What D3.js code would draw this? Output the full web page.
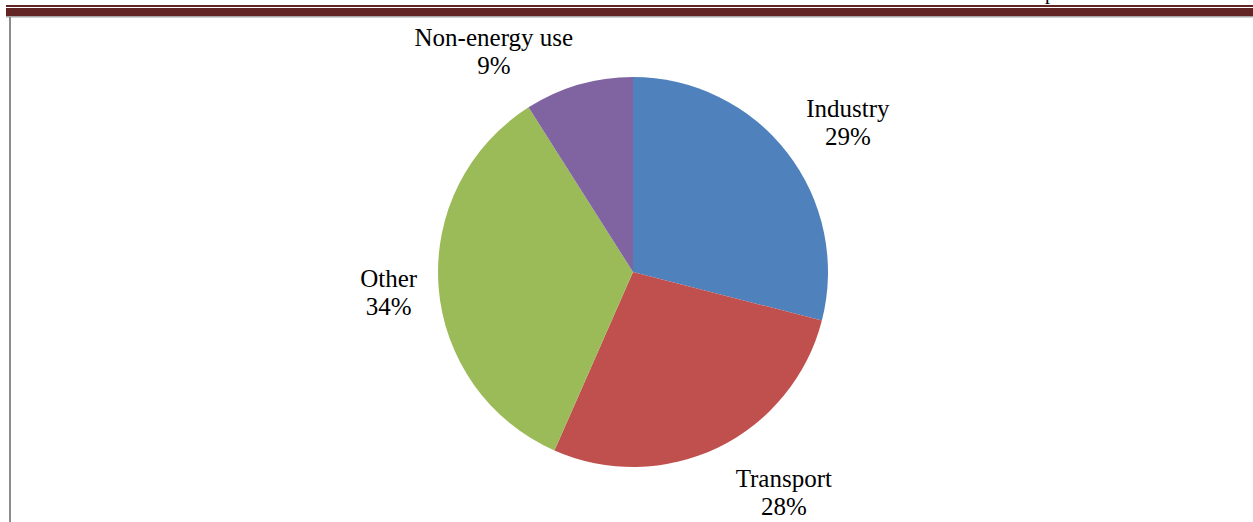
<!DOCTYPE html>
<html>
<head>
<meta charset="utf-8">
<script src="https://cdn.jsdelivr.net/npm/d3@7"></script>
<style>
  html, body { margin: 0; padding: 0; background: #fff; }
  svg { display: block; }
</style>
</head>
<body>
<div id="chart"></div>
<script>
// ---- data ----
const categories = ["Industry", "Transport", "Other", "Non-energy use"];
const values = [29.0, 27.6, 34.4, 9.0];
const colors = ["#4F81BD", "#C0504D", "#9BBB59", "#8064A2"];
// label placement (polar: degrees clockwise from top, radius factor of pie radius)
const labelAngles = [56.7, 146.6, 263.2, 326.7];
const labelRadii = [1.318, 1.405, 1.262, 1.300];

const W = 1253, H = 522;
const cx = 633, cy = 272, R = 195;

const svg = d3.select("#chart").append("svg")
  .attr("width", W).attr("height", H);

// page header decoration
svg.append("rect").attr("x", 6).attr("y", 5).attr("width", W - 6).attr("height", 2).attr("fill", "#632523");
svg.append("rect").attr("x", 6).attr("y", 8).attr("width", W - 6).attr("height", 8).attr("fill", "#632523");
svg.append("rect").attr("x", 6).attr("y", 16).attr("width", W - 6).attr("height", 1.5).attr("fill", "#a6a6a6");
svg.append("rect").attr("x", 9).attr("y", 17).attr("width", 2).attr("height", H - 17).attr("fill", "#8c8c8c");
svg.append("text").attr("x", 1050).attr("y", -1).attr("text-anchor", "middle")
  .attr("font-family", "Liberation Serif, Times New Roman, serif").attr("font-size", 20)
  .attr("fill", "#000").text("p");

const pie = d3.pie().sort(null).value(d => d)(values);
const arc = d3.arc().innerRadius(0).outerRadius(R);

const g = svg.append("g").attr("transform", `translate(${cx},${cy})`);
g.selectAll("path").data(pie).enter().append("path")
  .attr("d", arc)
  .attr("fill", (d, i) => colors[i]);

const total = d3.sum(values);
const labels = g.selectAll("text.lbl").data(pie).enter().append("text")
  .attr("class", "lbl")
  .attr("text-anchor", "middle")
  .attr("font-family", "Liberation Serif, Times New Roman, serif")
  .attr("font-size", 25)
  .attr("fill", "#000")
  .each(function(d, i) {
    const [x, y] = d3.pointRadial(labelAngles[i] * Math.PI / 180, labelRadii[i] * R);
    const t = d3.select(this);
    t.append("tspan").attr("x", x).attr("y", y - 14).text(categories[i]);
    t.append("tspan").attr("x", x).attr("y", y + 14).text(Math.round(values[i] / total * 100) + "%");
  });
</script>
</body>
</html>
